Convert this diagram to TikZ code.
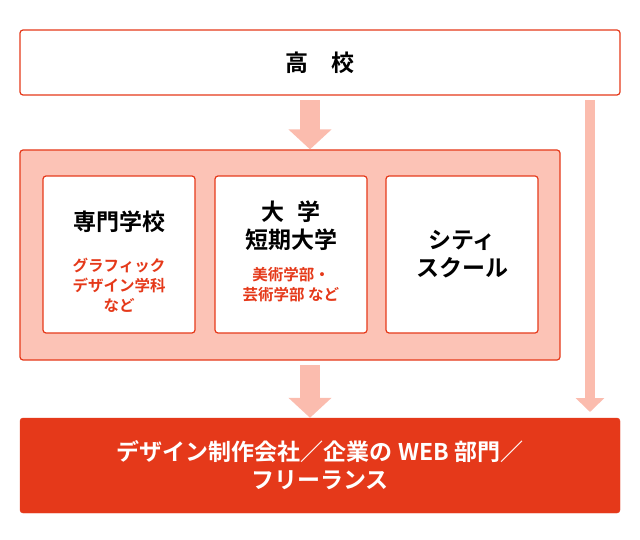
\documentclass[tikz,border=0pt]{standalone}
\usepackage{fontspec}
\newfontfamily\jp{Noto Sans CJK JP}[BoldFont={Noto Sans CJK JP Bold}]
\usetikzlibrary{positioning,arrows.meta}
\definecolor{lred}{HTML}{E5391A}
\definecolor{pinkf}{HTML}{FCC3B6}
\definecolor{arrowc}{HTML}{FBBCAE}
\tikzset{
  frame/.style={draw=lred,line width=1.2pt,rounded corners=3pt},
  inbox/.style={frame,fill=white,minimum width=152pt,minimum height=157pt,align=center},
  title/.style={font=\jp\bfseries\fontsize{23}{28}\selectfont},
  sub/.style={font=\jp\bfseries\fontsize{15.5}{20}\selectfont,text=lred}
}
\begin{document}
\begin{tikzpicture}[x=1pt,y=1pt,yscale=-1]
\useasboundingbox (0,0) rectangle (640,540);

%Top box
\node[frame,fill=white,minimum width=600pt,minimum height=65pt,title] (school) at (320,62.5) {高\hspace{1em}校};

%Middle box
\node[frame,fill=pinkf,minimum width=540pt,minimum height=210pt] (mid) at (290,255) {};
\node[inbox] (senmon) at (119,254.5) {};
\node[title,align=center] at (119,222) {専門学校};
\node[sub,align=center] at (119,285) {グラフィック\\デザイン学科\\など};
\node[inbox] (daigaku) at (291,254.5) {};
\node[title,align=center] at (291,226) {大\hspace{0.6em}学\\短期大学};
\node[sub,align=center] at (291,285) {美術学部・\\芸術学部 など};
\node[inbox] (city) at (462,254.5) {};
\node[title,align=center] at (462,254.5) {シティ\\スクール};

%Bottom box
\node[draw=lred,fill=lred,rounded corners=3pt,minimum width=600pt,minimum height=95pt,
  title,text=white,align=center] (work) at (320,465.5)
  {デザイン制作会社／企業の WEB 部門／\\フリーランス};

%Arrows
\coordinate (a1) at (310,100);
\coordinate (a2) at (310,365);
\coordinate (a3) at (590,100);
\draw[arrowc,line width=20pt,-{Triangle[width=42pt,length=20pt]}] (a1) -- (a1 |- mid.north);
\draw[arrowc,line width=20pt,-{Triangle[width=42pt,length=20pt]}] (a2) -- (a2 |- work.north);
\draw[arrowc,line width=10pt,-{Triangle[width=28pt,length=14pt]}] (a3) -- (590,412);
\end{tikzpicture}
\end{document}
